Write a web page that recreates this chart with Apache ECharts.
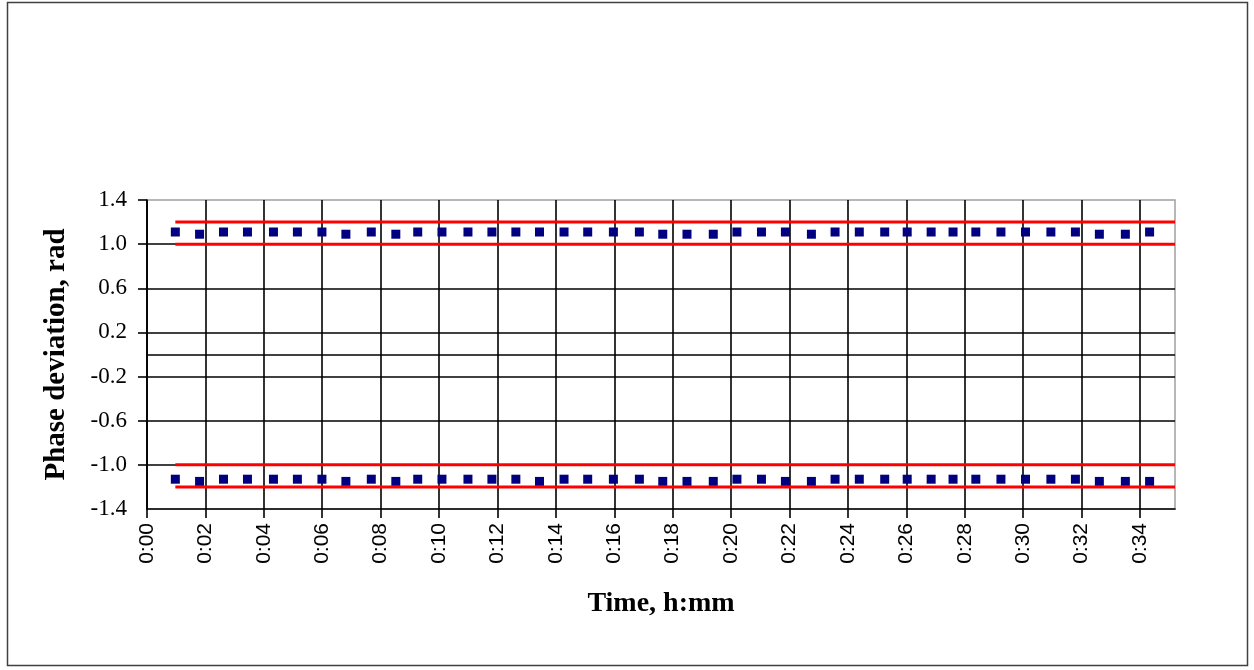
<!DOCTYPE html>
<html>
<head>
<meta charset="utf-8">
<script src="https://cdn.jsdelivr.net/npm/echarts@6/dist/echarts.min.js"></script>
<style>
  html, body { margin: 0; padding: 0; background: #fff; }
  #chart { width: 1254px; height: 670px; }
</style>
</head>
<body>
<div id="chart"></div>
<script>
// Sample times in minutes since start
const times = [
  0.97, 1.80, 2.62, 3.44, 4.33, 5.15, 5.99, 6.81, 7.68, 8.52,
  9.27, 10.10, 10.99, 11.81, 12.63, 13.44, 14.28, 15.09, 15.97, 16.86,
  17.66, 18.49, 19.39, 20.20, 21.04, 21.86, 22.75, 23.56, 24.39, 25.26,
  26.03, 26.85, 27.60, 28.38, 29.24, 30.08, 30.95, 31.79, 32.61, 33.50,
  34.33
];
// Positive branch of the measured phase deviation, rad
const upperPhase = [
  1.11, 1.09, 1.11, 1.11, 1.11, 1.11, 1.11, 1.09, 1.11, 1.09,
  1.11, 1.11, 1.11, 1.11, 1.11, 1.11, 1.11, 1.11, 1.11, 1.11,
  1.09, 1.09, 1.09, 1.11, 1.11, 1.11, 1.09, 1.11, 1.11, 1.11,
  1.11, 1.11, 1.11, 1.11, 1.11, 1.11, 1.11, 1.11, 1.09, 1.09,
  1.11
];
// Negative branch of the measured phase deviation, rad
const lowerPhase = [
  -1.13, -1.15, -1.13, -1.13, -1.13, -1.13, -1.13, -1.15, -1.13, -1.15,
  -1.13, -1.13, -1.13, -1.13, -1.13, -1.15, -1.13, -1.13, -1.13, -1.13,
  -1.15, -1.15, -1.15, -1.13, -1.13, -1.15, -1.15, -1.13, -1.13, -1.13,
  -1.13, -1.13, -1.13, -1.13, -1.13, -1.13, -1.13, -1.13, -1.15, -1.15,
  -1.15
];
// Tolerance band limits, rad
const limitLevels = [1.2, 1.0, -1.0, -1.2];
// Axis ranges and tick labels
const timeMax = 35.2;
const timeTicks = [0, 2, 4, 6, 8, 10, 12, 14, 16, 18, 20, 22, 24, 26, 28, 30, 32, 34];
const phaseLabels = [-1.4, -1.0, -0.6, -0.2, 0.2, 0.6, 1.0, 1.4];
const phaseTicks = [-1.0, -0.6, -0.2, 0.2, 0.6, 1.0, 1.4];

const chart = echarts.init(document.getElementById('chart'), null, { renderer: 'canvas' });

function fmtTime(v) {
  const m = Math.round(v);
  const h = Math.floor(m / 60);
  const mm = m % 60;
  return h + ':' + (mm < 10 ? '0' + mm : '' + mm);
}

const gridColor = '#000';
const gridWidth = 1.6;

const pointSeries = [upperPhase, lowerPhase].map(function (vals, k) {
  return {
    type: 'scatter',
    name: k === 0 ? 'upper' : 'lower',
    symbol: 'rect',
    symbolSize: 9,
    itemStyle: { color: '#000080', opacity: 1 },
    data: times.map(function (t, i) { return [t, vals[i]]; }),
    z: 3,
    markLine: k === 0 ? {
      silent: true,
      symbol: 'none',
      label: { show: false },
      lineStyle: { color: gridColor, width: gridWidth, type: 'solid' },
      data: [{ yAxis: 0 }],
      animation: false
    } : undefined
  };
});

const limitSeries = limitLevels.map(function (lv) {
  return {
    type: 'line',
    symbol: 'none',
    lineStyle: { color: '#ff0000', width: 3 },
    data: [[times[0], lv], [timeMax, lv]],
    z: 4
  };
});

chart.setOption({
  animation: false,
  backgroundColor: '#fff',
  graphic: [{
    type: 'rect',
    shape: { x: 7.5, y: 2.5, width: 1240, height: 663 },
    style: { fill: 'none', stroke: '#404040', lineWidth: 1.5 },
    silent: true
  }],
  grid: {
    left: 147, top: 200, width: 1028, height: 309,
    show: true, borderColor: '#a0a0a0', borderWidth: 1.5, backgroundColor: '#fff'
  },
  xAxis: {
    type: 'value',
    min: 0,
    max: timeMax,
    name: 'Time, h:mm',
    nameLocation: 'middle',
    nameGap: 81,
    nameTextStyle: { fontFamily: 'Liberation Serif', fontWeight: 'bold', fontSize: 28, color: '#000' },
    axisLine: { onZero: false, lineStyle: { color: gridColor, width: gridWidth } },
    axisTick: { show: true, length: 9, customValues: timeTicks, lineStyle: { color: gridColor, width: gridWidth } },
    axisLabel: {
      customValues: timeTicks,
      rotate: 90,
      margin: 14,
      fontFamily: 'Liberation Sans',
      fontSize: 21,
      color: '#000',
      formatter: fmtTime
    },
    splitLine: { show: true, lineStyle: { color: gridColor, width: gridWidth } }
  },
  yAxis: {
    type: 'value',
    min: -1.4,
    max: 1.4,
    name: 'Phase deviation, rad',
    nameLocation: 'middle',
    nameGap: 76,
    nameTextStyle: { fontFamily: 'Liberation Serif', fontWeight: 'bold', fontSize: 29, color: '#000' },
    axisLine: { show: true, lineStyle: { color: gridColor, width: gridWidth } },
    axisTick: { show: true, length: 9, customValues: phaseTicks, lineStyle: { color: gridColor, width: gridWidth } },
    axisLabel: {
      customValues: phaseLabels,
      margin: 20,
      fontFamily: 'Liberation Serif',
      fontSize: 23,
      color: '#000',
      formatter: function (v) { return v.toFixed(1); }
    },
    splitLine: { show: true, showMaxLine: false, lineStyle: { color: gridColor, width: gridWidth } }
  },
  series: pointSeries.concat(limitSeries)
});
</script>
</body>
</html>
